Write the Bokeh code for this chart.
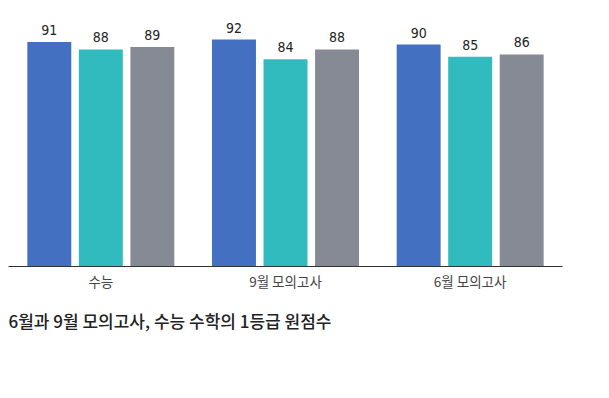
from bokeh.plotting import figure
from bokeh.models import ColumnDataSource, FactorRange, Range1d, Title
from bokeh.transform import dodge
from bokeh.core.properties import value
from bokeh.embed import file_html
from bokeh.resources import INLINE

groups = ["수능", "9월 모의고사", "6월 모의고사"]
series_a = [91, 92, 90]
series_b = [88, 84, 85]
series_c = [89, 88, 86]
colors = ["#4470C1", "#31BBBE", "#868A94"]
title_text = "6월과 9월 모의고사, 수능 수학의 1등급 원점수"

src = ColumnDataSource(dict(
    group=groups,
    a=series_a, b=series_b, c=series_c,
    la=[str(v) for v in series_a],
    lb=[str(v) for v in series_b],
    lc=[str(v) for v in series_c],
))

p = figure(
    x_range=FactorRange(*groups, range_padding=0),
    y_range=Range1d(0, 104.6),
    width=601, height=390,
    output_backend="svg", toolbar_location=None,
    min_border_left=8, min_border_right=39,
    min_border_top=8, min_border_bottom=124,
)

offsets = [-0.279, 0.0, 0.279]
for key, lab, off, col in zip(["a", "b", "c"], ["la", "lb", "lc"], offsets, colors):
    xd = dodge("group", off, range=p.x_range)
    p.vbar(x=xd, top=key, width=0.238, source=src, fill_color=col, line_color=None)
    p.text(x=xd, y=key, text=lab, source=src, text_align="center",
           text_baseline="alphabetic", y_offset=-12,
           text_font_size="14px",
           text_font=value("'Liberation Sans Narrow', 'DejaVu Sans Condensed', 'Liberation Sans', sans-serif"),
           text_color="#222222")

p.yaxis.visible = False
p.xgrid.grid_line_color = None
p.ygrid.grid_line_color = None
p.outline_line_color = None
ax = p.xaxis[0]
ax.major_tick_line_color = None
ax.minor_tick_line_color = None
ax.major_tick_out = 0
ax.major_tick_in = 0
ax.axis_line_color = "#333333"
ax.axis_line_width = 1
ax.major_label_text_font = "Noto Sans CJK KR"
ax.major_label_text_font_size = "13.5px"
ax.major_label_text_color = "#444444"
ax.major_label_standoff = 4

t = Title(text=title_text, align="left", text_font_size="17px",
          text_font="'Noto Sans CJK KR Medium', 'Noto Sans CJK KR'", text_font_style="normal",
          text_color="#222222", standoff=24)
p.add_layout(t, "below")

open("out.html", "w").write(file_html(p, INLINE))
